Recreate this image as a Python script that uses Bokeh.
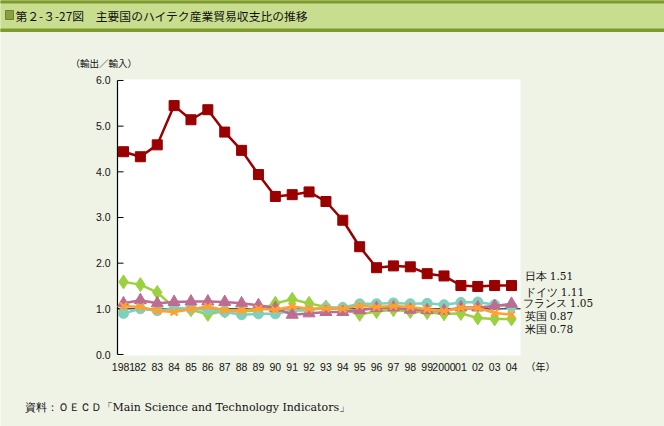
from bokeh.plotting import figure
from bokeh.models import Range1d
from bokeh.embed import file_html
from bokeh.resources import INLINE
from bokeh.core.properties import value

# ---- data ----
years = ["1981", "82", "83", "84", "85", "86", "87", "88", "89", "90", "91", "92",
         "93", "94", "95", "96", "97", "98", "99", "2000", "01", "02", "03", "04"]
japan = [4.44, 4.33, 4.59, 5.45, 5.14, 5.36, 4.87, 4.47, 3.94, 3.46, 3.50, 3.56,
         3.35, 2.94, 2.36, 1.90, 1.94, 1.92, 1.77, 1.72, 1.51, 1.49, 1.51, 1.51]
germany = [1.12, 1.19, 1.12, 1.15, 1.16, 1.16, 1.15, 1.12, 1.08, 1.02, 0.87, 0.90,
           0.93, 0.93, 0.97, 1.02, 1.03, 0.98, 0.97, 0.96, 1.03, 1.03, 1.06, 1.11]
france = [0.90, 1.00, 0.96, 1.00, 1.01, 0.97, 0.93, 0.87, 0.89, 0.89, 0.96, 0.97,
          1.03, 1.03, 1.11, 1.11, 1.13, 1.11, 1.12, 1.09, 1.14, 1.15, 1.09, 1.05]
uk = [1.06, 1.04, 0.96, 0.93, 0.99, 1.05, 0.97, 0.96, 1.00, 0.98, 1.05, 1.00,
      1.01, 1.00, 1.07, 1.04, 1.06, 1.04, 0.99, 0.95, 1.02, 1.02, 0.91, 0.87]
us = [1.59, 1.53, 1.36, 1.03, 0.98, 0.88, 0.95, 0.94, 0.97, 1.12, 1.21, 1.12,
      1.04, 1.00, 0.88, 0.94, 0.98, 0.94, 0.92, 0.89, 0.90, 0.80, 0.78, 0.78]
y_ticks = [0.0, 1.0, 2.0, 3.0, 4.0, 5.0, 6.0]
end_labels = ["日本 1.51", "ドイツ 1.11", "フランス 1.05", "英国 0.87", "米国 0.78"]

title_text = "第２-３-27図　主要国のハイテク産業貿易収支比の推移"
y_title = "（輸出／輸入）"
unit_text = "（年）"
source_text = "資料：ＯＥＣＤ「Main Science and Technology Indicators」"

# ---- style / layout (pixels of the 664x426 canvas) ----
W, H = 664, 426
BG = "#eef3e6"
BAND = "#c9dd8f"
BAND_LINE = "#7d9b2c"
SQUARE = "#8d9e3c"
RED = "#990000"
TEAL = "#7fd0bc"
MAUVE = "#bd6c92"
ORANGE = "#ffa030"
GREEN = "#9bd13f"
INK = "#111111"
SANS_JP = value("Noto Sans CJK JP")
SERIF = value("DejaVu Serif")
SANS = value("Liberation Sans")

X0, DX = 123.0, 16.87          # pixel of first year, pixel step per year
Y0, DY = 354.0, 45.67          # pixel of value 0, pixels per unit
PL, PR, PT, PB = 117, 520, 79, 355   # white plot area

x = list(range(len(years)))

p = figure(width=W, height=H,
           x_range=Range1d(-X0 / DX, (W - X0) / DX),
           y_range=Range1d(-(H - Y0) / DY, Y0 / DY),
           x_axis_type=None, y_axis_type=None,
           toolbar_location=None, output_backend="svg", min_border=0)
p.extra_x_ranges = {"px": Range1d(0, W)}
p.extra_y_ranges = {"px": Range1d(H, 0)}
p.background_fill_color = BG
p.border_fill_color = BG
p.outline_line_color = None
p.xgrid.visible = False
p.ygrid.visible = False

PX = dict(x_range_name="px", y_range_name="px")

# title band
p.quad(left=[0], right=[W], top=[0], bottom=[31], color=BAND, **PX)
p.quad(left=[0], right=[W], top=[0], bottom=[2.5], color=BAND_LINE, **PX)
p.quad(left=[0], right=[W], top=[28.5], bottom=[31], color=BAND_LINE, **PX)
p.quad(left=[5], right=[13], top=[10], bottom=[19], fill_color=SQUARE, line_color="#6f8030", **PX)
p.text(x=[15], y=[15], text=[title_text], text_font=SANS_JP, text_font_size="11.8px",
       text_baseline="middle", text_align="left", text_color=INK, **PX)

# plot area
p.quad(left=[PL], right=[PR], top=[PT], bottom=[PB], fill_color="white", line_color=None, **PX)

# y axis (line, inward ticks, labels) positioned by value scale
p.segment(x0=[PL], x1=[PL], y0=[y_ticks[0]], y1=[y_ticks[-1]], line_color="black",
          line_width=1.2, x_range_name="px")
p.segment(x0=[PL] * len(y_ticks), x1=[PL + 6] * len(y_ticks), y0=y_ticks, y1=y_ticks,
          line_color="black", line_width=1, x_range_name="px")
p.text(x=[110] * len(y_ticks), y=y_ticks, text=[f"{v:.1f}" for v in y_ticks],
       text_font=SANS, text_font_size="10.5px", text_baseline="middle", text_align="right",
       text_color=INK, x_range_name="px")
p.text(x=[70], y=[62], text=[y_title], text_font=SANS_JP, text_font_size="9.5px",
       text_baseline="middle", text_align="left", text_color=INK, **PX)

# reference line at 1.0
p.segment(x0=[PL], x1=[PR], y0=[1.0], y1=[1.0], line_color="black", line_width=1,
          x_range_name="px")

# x tick labels positioned by year scale
p.text(x=x, y=[366] * len(x), text=years, text_font=SANS, text_font_size="10.5px",
       text_baseline="middle", text_align="center", text_color=INK, y_range_name="px")
p.text(x=[525], y=[366], text=[unit_text], text_font=SANS_JP, text_font_size="10px",
       text_baseline="middle", text_align="left", text_color=INK, **PX)

# series
series = [
    (us, GREEN, "diamond", 14),
    (france, TEAL, "circle", 10),
    (germany, MAUVE, "triangle", 12),
    (uk, ORANGE, "x", 10),
    (japan, RED, "square", 10),
]
for vals, col, marker, size in series:
    p.line(x, vals, line_color=col, line_width=2.5)
    if marker == "x":
        p.scatter(x, vals, marker=marker, size=size, line_color=col, line_width=2.2)
    else:
        p.scatter(x, vals, marker=marker, size=size, fill_color=col, line_color=col)

# end labels
p.text(x=[524, 524, 522, 524, 524], y=[275, 291, 302, 315, 328], text=end_labels,
       text_font=SERIF, text_font_size="10.5px", text_baseline="middle", text_align="left",
       text_color=INK, **PX)

# source
p.text(x=[24], y=[407], text=[source_text], text_font=SERIF, text_font_size="11px",
       text_baseline="middle", text_align="left", text_color=INK, **PX)

open("out.html", "w").write(file_html(p, INLINE))
